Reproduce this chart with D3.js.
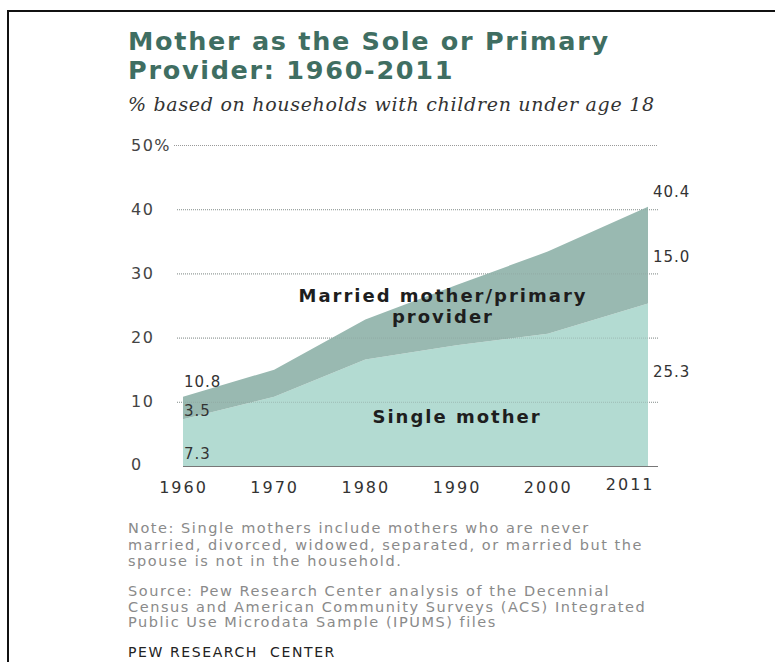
<!DOCTYPE html>
<html>
<head>
<meta charset="utf-8">
<script src="https://cdn.jsdelivr.net/npm/d3@7"></script>
<style>
  html, body { margin: 0; padding: 0; background: #fff; }
  svg { display: block; }
</style>
</head>
<body>
<svg id="chart"></svg>
<script>
// data
const years = [1960, 1970, 1980, 1990, 2000, 2011];
const singleMother = [7.3, 10.8, 16.6, 18.8, 20.6, 25.3];
const marriedPrimary = [3.5, 4.2, 6.2, 9.4, 12.8, 15.1];
const yTicks = [0, 10, 20, 30, 40, 50];
const yTickLabels = ["0", "10", "20", "30", "40", "50%"];

const W = 775, H = 662;
const svg = d3.select("#chart").attr("width", W).attr("height", H);

// frame
svg.append("rect")
  .attr("x", 8).attr("y", 11)
  .attr("width", W + 20).attr("height", H + 20)
  .attr("fill", "none").attr("stroke", "#111").attr("stroke-width", 2);

// title + subtitle
const title = svg.append("text")
  .attr("fill", "#3f6e62")
  .style("font-family", "'DejaVu Sans', Verdana, sans-serif")
  .style("font-weight", "bold")
  .style("font-size", "25.5px")
  .style("letter-spacing", "1.7px");
title.append("tspan").attr("x", 128).attr("y", 50).text("Mother as the Sole or Primary");
title.append("tspan").attr("x", 128).attr("y", 79).text("Provider: 1960-2011");

svg.append("text")
  .attr("x", 128).attr("y", 111)
  .attr("fill", "#333")
  .style("font-family", "'DejaVu Serif', Georgia, serif")
  .style("font-style", "italic")
  .style("font-size", "19px")
  .style("letter-spacing", "0.7px")
  .text("% based on households with children under age 18");

// scales
const x = d3.scaleLinear().domain([1960, 2011]).range([183, 648]);
const y = d3.scaleLinear().domain([0, 50]).range([466, 145]);

// gridlines
svg.append("g")
  .selectAll("line")
  .data(yTicks.filter(d => d > 0))
  .join("line")
  .attr("x1", d => d === 50 ? 174 : 177)
  .attr("x2", 658)
  .attr("y1", d => y(d) + 0.5)
  .attr("y2", d => y(d) + 0.5)
  .attr("stroke", "#999")
  .attr("stroke-width", 1)
  .attr("stroke-dasharray", "1,1");

// stacked areas
const rows = years.map((yr, i) => ({ year: yr, single: singleMother[i], married: marriedPrimary[i] }));
const stack = d3.stack().keys(["single", "married"])(rows);
const colors = { single: "#b3dbd2", married: "#99b9b1" };

const area = d3.area()
  .x(d => x(d.data.year))
  .y0(d => y(d[0]))
  .y1(d => y(d[1]));

svg.append("g")
  .selectAll("path")
  .data(stack)
  .join("path")
  .attr("fill", d => colors[d.key])
  .attr("d", area);

// faint dotted gridlines showing through the area
svg.append("g")
  .selectAll("line")
  .data(yTicks.filter(d => d > 0 && d < 50))
  .join("line")
  .attr("x1", 177)
  .attr("x2", 658)
  .attr("y1", d => y(d) + 0.5)
  .attr("y2", d => y(d) + 0.5)
  .attr("stroke", "#8a9e99")
  .attr("stroke-opacity", 0.5)
  .attr("stroke-width", 1)
  .attr("stroke-dasharray", "1,1");

// baseline
svg.append("line")
  .attr("x1", x(1960)).attr("x2", 658)
  .attr("y1", y(0) + 0.5).attr("y2", y(0) + 0.5)
  .attr("stroke", "#777").attr("stroke-width", 1.2);

// y labels
svg.append("g")
  .selectAll("text")
  .data(yTicks)
  .join("text")
  .attr("x", 131)
  .attr("y", d => d === 0 ? y(d) - 2 : y(d))
  .attr("dy", "0.35em")
  .attr("fill", "#444")
  .style("font-family", "'DejaVu Sans', Verdana, sans-serif")
  .style("font-size", "16px")
  .style("letter-spacing", "1.5px")
  .text((d, i) => yTickLabels[i]);

// x axis labels
const xAxis = svg.append("g")
  .attr("transform", `translate(0, ${y(0) + 13})`)
  .call(d3.axisBottom(x).tickValues(years).tickSize(0).tickFormat(d3.format("d")));
xAxis.select(".domain").remove();
xAxis.selectAll("text")
  .attr("fill", "#333")
  .style("font-family", "'DejaVu Sans', Verdana, sans-serif")
  .style("font-size", "16px")
  .style("letter-spacing", "2px")
  .attr("text-anchor", d => d === 2011 ? "end" : "middle")
  .attr("dx", d => d === 2011 ? "6px" : "0")
  .attr("dy", d => d === 2011 ? "0.5em" : "0.71em");

// value labels
const valueStyle = sel => sel
  .attr("fill", "#333")
  .style("font-family", "'DejaVu Sans', Verdana, sans-serif")
  .style("font-size", "15px")
  .style("letter-spacing", "1px");

const first = 0, last = years.length - 1;
const startLabels = [
  { v: singleMother[first] + marriedPrimary[first], yv: 13.2 },
  { v: marriedPrimary[first], yv: 8.6 },
  { v: singleMother[first], yv: 1.9 }
];
svg.append("g").selectAll("text")
  .data(startLabels)
  .join("text")
  .attr("x", x(1960) + 1)
  .attr("y", d => y(d.yv))
  .attr("dy", "0.35em")
  .call(valueStyle)
  .text(d => d.v.toFixed(1));

const endLabels = [
  { v: singleMother[last] + marriedPrimary[last], yv: 42.7 },
  { v: 15.0, yv: 32.6 },
  { v: singleMother[last], yv: 14.7 }
];
svg.append("g").selectAll("text")
  .data(endLabels)
  .join("text")
  .attr("x", x(2011) + 5)
  .attr("y", d => y(d.yv))
  .attr("dy", "0.35em")
  .call(valueStyle)
  .text(d => d.v.toFixed(1));

// series labels
const seriesLabel = svg.append("g")
  .attr("fill", "#1e1e1e")
  .style("font-family", "'DejaVu Sans', Verdana, sans-serif")
  .style("font-weight", "bold")
  .style("font-size", "18px")
  .style("letter-spacing", "2px")
  .attr("text-anchor", "middle");
seriesLabel.append("text").attr("x", 443).attr("y", y(26.6)).attr("dy", "0.35em").text("Married mother/primary");
seriesLabel.append("text").attr("x", 443).attr("y", y(23.2)).attr("dy", "0.35em").text("provider");
seriesLabel.append("text").attr("x", 457).attr("y", y(7.7)).attr("dy", "0.35em").text("Single mother");

// notes
const noteLines = [
  "Note: Single mothers include mothers who are never",
  "married, divorced, widowed, separated, or married but the",
  "spouse is not in the household."
];
const sourceLines = [
  "Source: Pew Research Center analysis of the Decennial",
  "Census and American Community Surveys (ACS) Integrated",
  "Public Use Microdata Sample (IPUMS) files"
];
const noteStyle = sel => sel
  .attr("fill", "#8a8a8a")
  .style("font-family", "'DejaVu Sans', Verdana, sans-serif")
  .style("font-size", "14.5px")
  .style("letter-spacing", "1.55px");

svg.append("g").selectAll("text")
  .data(noteLines)
  .join("text")
  .attr("x", 128)
  .attr("y", (d, i) => 533 + i * 16.5)
  .call(noteStyle)
  .text(d => d);

svg.append("g").selectAll("text")
  .data(sourceLines)
  .join("text")
  .attr("x", 128)
  .attr("y", (d, i) => 596 + i * 15.5)
  .call(noteStyle)
  .text(d => d);

svg.append("text")
  .attr("x", 128).attr("y", 657)
  .attr("fill", "#222")
  .style("font-family", "'DejaVu Sans', Verdana, sans-serif")
  .style("font-size", "14px")
  .style("letter-spacing", "1.6px")
  .attr("xml:space", "preserve")
  .text("PEW RESEARCH  CENTER");
</script>
</body>
</html>
